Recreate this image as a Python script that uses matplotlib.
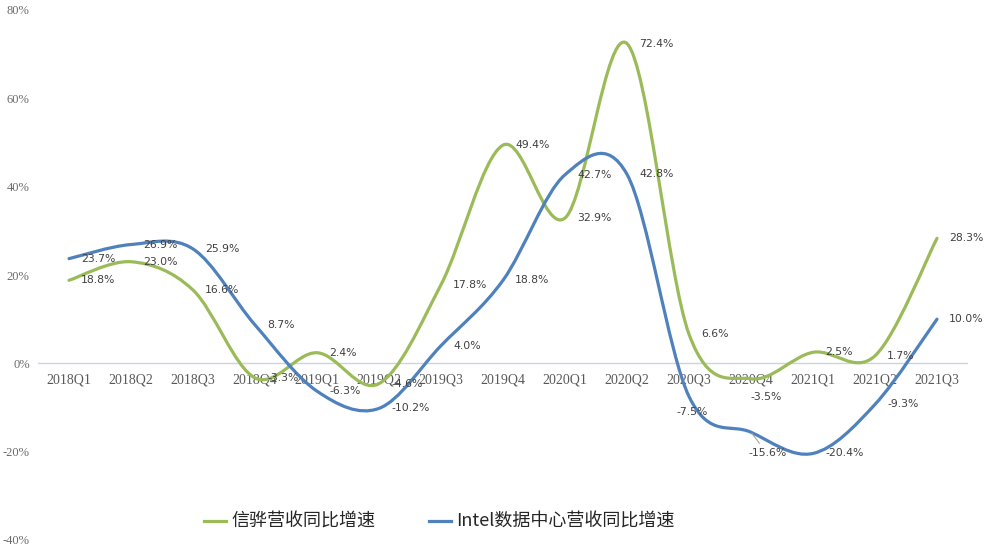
import numpy as np
import matplotlib.pyplot as plt
from matplotlib.path import Path
from matplotlib.patches import PathPatch
from matplotlib.lines import Line2D

plt.rcParams['font.family'] = ['Noto Sans CJK SC', 'DejaVu Sans']

quarters = ['2018Q1', '2018Q2', '2018Q3', '2018Q4', '2019Q1', '2019Q2', '2019Q3', '2019Q4',
            '2020Q1', '2020Q2', '2020Q3', '2020Q4', '2021Q1', '2021Q2', '2021Q3']
aspeed = [18.8, 23.0, 16.6, -3.3, 2.4, -4.6, 17.8, 49.4, 32.9, 72.4, 6.6, -3.5, 2.5, 1.7, 28.3]
intel_dc = [23.7, 26.9, 25.9, 8.7, -6.3, -10.2, 4.0, 18.8, 42.7, 42.8, -7.5, -15.6, -20.4, -9.3, 10.0]
names = ['信骅营收同比增速', 'Intel数据中心营收同比增速']
yticks = [-40, -20, 0, 20, 40, 60, 80]

GREEN = '#9BBB59'
BLUE = '#4F81BD'


def smooth_path(x, y):
    # excel-like smoothed line: cubic bezier with catmull-rom control points
    pts = np.column_stack([x, y]).astype(float)
    n = len(pts)
    verts = [pts[0]]
    codes = [Path.MOVETO]
    for i in range(n - 1):
        p0 = pts[i - 1] if i > 0 else pts[i]
        p1 = pts[i]
        p2 = pts[i + 1]
        p3 = pts[i + 2] if i + 2 < n else pts[i + 1]
        c1 = p1 + (p2 - p0) / 6.0
        c2 = p2 - (p3 - p1) / 6.0
        verts += [c1, c2, p2]
        codes += [Path.CURVE4] * 3
    return Path(verts, codes)


fig = plt.figure(figsize=(9.85, 5.55), dpi=100)
ax = fig.add_axes([38 / 985, 15 / 555, 930 / 985, 530 / 555])

x = np.arange(len(quarters))
for vals, col in [(aspeed, GREEN), (intel_dc, BLUE)]:
    patch = PathPatch(smooth_path(x, vals), facecolor='none', edgecolor=col,
                      lw=2.3, capstyle='round', joinstyle='round', zorder=3)
    ax.add_patch(patch)

ax.set_xlim(-0.5, len(quarters) - 0.5)
ax.set_ylim(-40, 80)
ax.axhline(0, color='#CAD3E2', lw=1.0, zorder=1)

for s in ax.spines.values():
    s.set_visible(False)
ax.set_xticks([])
ax.set_yticks(yticks)
ax.set_yticklabels(['%d%%' % v for v in yticks], family='Liberation Serif',
                   fontsize=9, color='#6B6B6B')
ax.tick_params(axis='y', length=0, pad=6)

# category labels sit just under the zero line
for i, q in enumerate(quarters):
    ax.annotate(q, (i, 0), xytext=(0, -10), textcoords='offset pixels',
                ha='center', va='top', family='Liberation Serif',
                fontsize=10, color='#595959', zorder=2)

# data labels, mostly to the right of each point
moved = {(1, 10): (-13, -16), (1, 11): (-3, -21), (0, 11): (-1, -18)}
for s, vals in enumerate([aspeed, intel_dc]):
    for i, v in enumerate(vals):
        dx, dy = moved.get((s, i), (12, 0))
        kw = {}
        if (s, i) == (1, 11):
            kw['arrowprops'] = dict(arrowstyle='-', color='#A6A6A6', lw=0.8,
                                    shrinkA=2, shrinkB=1)
        ax.annotate('%.1f%%' % v, (i, v), xytext=(dx, dy), textcoords='offset pixels',
                    ha='left', va='center', family='DejaVu Sans',
                    fontsize=7.8, color='#404040', zorder=4, **kw)

handles = [Line2D([], [], color=GREEN, lw=2.3), Line2D([], [], color=BLUE, lw=2.3)]
fig.legend(handles, names, loc='center left', bbox_to_anchor=(195 / 985, 1 - 522 / 555),
           ncol=2, frameon=False, fontsize=13, handlelength=1.2, handletextpad=0.3,
           columnspacing=3.0, borderpad=0, labelcolor='#262626')

fig.savefig('out.png', dpi=100)
